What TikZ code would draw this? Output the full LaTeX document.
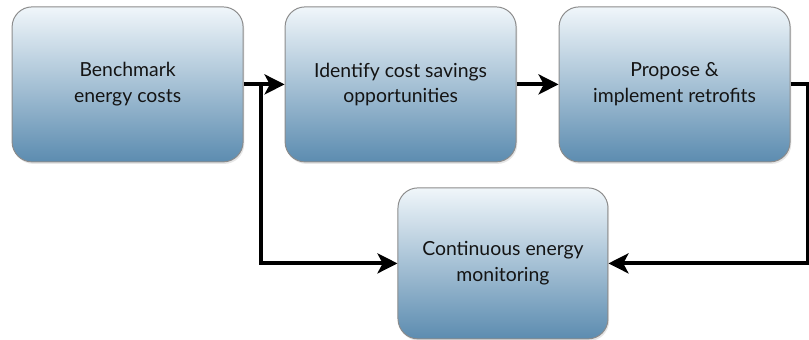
\documentclass[tikz,border=0pt]{standalone}
\usepackage{fontspec}
\setmainfont{Lato}
\usetikzlibrary{arrows.meta, positioning, calc, shadows}
\definecolor{boxtop}{RGB}{240,246,250}
\definecolor{boxbottom}{RGB}{92,140,176}
\definecolor{boxline}{RGB}{140,140,140}
\definecolor{textdark}{RGB}{20,20,20}
\tikzstyle{stage} = [rectangle, rounded corners=0.5cm, minimum width=5.775cm, minimum height=3.875cm, align=center, draw=boxline, line width=0.7pt, top color=boxtop, bottom color=boxbottom, text=textdark, font=\fontsize{13.8}{18.2}\selectfont, drop shadow={opacity=0.2, shadow xshift=0.03cm, shadow yshift=-0.05cm}]
\tikzstyle{arrow} = [line width=0.1cm, -{Stealth[length=0.5cm, width=0.5cm, inset=0.13cm]}]

\begin{document}
\begin{tikzpicture}
\useasboundingbox (0,0) rectangle (20.225,-8.475);

% Top row
\node (bench) [stage] at (3.19,-2.11) {Benchmark\\energy costs};
\node (ident) [stage, right=1.025cm of bench] {Identify cost savings\\opportunities};
\node (propose) [stage, right=1.05cm of ident] {Propose \&\\implement retrofits};

% Monitoring
\node (monitor) [stage, minimum width=5.25cm, minimum height=3.775cm, below=0.625cm of ident, xshift=2.56cm] {Continuous energy\\monitoring};

% Turning points
\coordinate (split) at ($(bench.east)+(0.425,0)$);
\coordinate (turn) at ($(propose.east)+(0.425,0)$);

% Arrows
\draw [arrow] (bench.east) -- (ident.west);
\draw [arrow] (ident.east) -- (propose.west);
\draw [arrow] (split) |- (monitor.west);
\draw [arrow] (propose.east) -- (turn) |- (monitor.east);

\end{tikzpicture}
\end{document}
